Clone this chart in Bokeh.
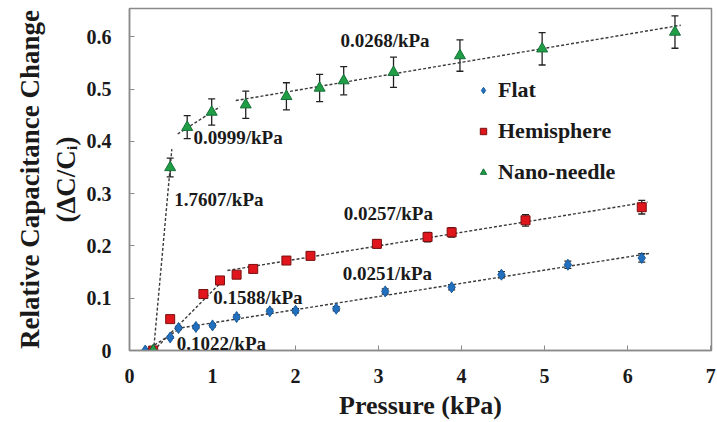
import numpy as np
from bokeh.plotting import figure
from bokeh.models import (ColumnDataSource, Whisker, TeeHead, Range1d, Legend, LegendItem,
                          FixedTicker, Label)
from bokeh.embed import file_html
from bokeh.resources import INLINE

# ---------------- data ----------------
flat_x = [0.19, 0.49, 0.59, 0.80, 1.00, 1.29, 1.69, 2.00, 2.49, 3.08, 3.88, 4.48, 5.28, 6.17]
flat_y = [0.0, 0.025, 0.043, 0.045, 0.048, 0.064, 0.075, 0.076, 0.080, 0.113, 0.121, 0.145, 0.164, 0.177]
flat_err = [0.0, 0.002, 0.003, 0.003, 0.003, 0.004, 0.004, 0.004, 0.004, 0.005, 0.005, 0.006, 0.007, 0.008]

hemi_x = [0.285, 0.49, 0.89, 1.09, 1.29, 1.49, 1.89, 2.18, 2.98, 3.59, 3.88, 4.77, 6.17]
hemi_y = [0.0, 0.060, 0.108, 0.134, 0.145, 0.156, 0.172, 0.181, 0.204, 0.217, 0.226, 0.249, 0.274]
hemi_err = [0.0, 0.004, 0.005, 0.006, 0.006, 0.006, 0.007, 0.007, 0.008, 0.009, 0.009, 0.011, 0.013]

nano_x = [0.285, 0.49, 0.695, 0.99, 1.40, 1.89, 2.29, 2.58, 3.18, 3.98, 4.97, 6.57]
nano_y = [0.0, 0.350, 0.427, 0.456, 0.470, 0.486, 0.502, 0.516, 0.532, 0.564, 0.577, 0.609]
nano_err = [0.0, 0.018, 0.022, 0.025, 0.026, 0.026, 0.026, 0.027, 0.029, 0.030, 0.031, 0.031]

# linear-fit segments: start/end of each dashed trend line
trend_x0 = [0.29, 0.58, 1.28, 0.29, 1.18, 0.20, 0.57]
trend_y0 = [0.0, 0.414, 0.478, 0.0, 0.153, 0.0, 0.042]
trend_x1 = [0.51, 1.09, 6.64, 1.10, 6.24, 0.62, 6.28]
trend_y1 = [0.385, 0.466, 0.622, 0.130, 0.284, 0.043, 0.186]

# slope annotations
slope_text = ["0.0268/kPa", "0.0999/kPa", "1.7607/kPa", "0.0257/kPa",
              "0.0251/kPa", "0.1588/kPa", "0.1022/kPa"]
slope_x = [2.54, 0.77, 0.54, 2.58, 2.57, 1.01, 0.57]
slope_y = [0.593, 0.407, 0.289, 0.262, 0.147, 0.101, 0.013]

x_ticks = [0, 1, 2, 3, 4, 5, 6, 7]
y_ticks = [0, 0.1, 0.2, 0.3, 0.4, 0.5, 0.6]
y_tick_labels = {0: "0", 0.1: "0.1", 0.2: "0.2", 0.3: "0.3", 0.4: "0.4", 0.5: "0.5", 0.6: "0.6"}

series_names = ["Flat", "Hemisphere", "Nano-needle"]

# ---------------- figure ----------------
FONT = "'Liberation Serif', 'Times New Roman', serif"
p = figure(width=717, height=422, output_backend="svg", toolbar_location=None,
           x_range=Range1d(0, 7.01), y_range=Range1d(0, 0.654),
           min_border_left=129, min_border_right=6, min_border_top=8, min_border_bottom=72)
p.background_fill_color = "white"
p.border_fill_color = "white"
p.outline_line_color = "#8a8a8a"
p.outline_line_width = 1.5
p.xgrid.visible = False
p.ygrid.visible = False

for ax in (p.xaxis[0], p.yaxis[0]):
    ax.axis_line_color = "#8a8a8a"
    ax.axis_line_width = 1.5
    ax.major_tick_in = 5
    ax.major_tick_out = 0
    ax.major_tick_line_color = "#8a8a8a"
    ax.minor_tick_line_color = None
    ax.major_label_text_font = FONT
    ax.major_label_text_font_style = "bold"
    ax.major_label_text_font_size = "20px"
    ax.major_label_text_color = "#1a1a1a"
    ax.axis_label_text_font = FONT
    ax.axis_label_text_font_style = "bold"
    ax.axis_label_text_color = "#1a1a1a"

p.xaxis.axis_label_text_font_size = "26px"
p.yaxis.axis_label_text_font_size = "27px"
p.xaxis.ticker = FixedTicker(ticks=x_ticks)
p.yaxis.ticker = FixedTicker(ticks=y_ticks)
p.yaxis.major_label_overrides = y_tick_labels
p.xaxis.major_label_standoff = 18
p.yaxis.major_label_standoff = 18
p.xaxis.axis_label = "Pressure (kPa)"
p.yaxis.axis_label = "Relative Capacitance Change\n(ΔC/Cᵢ)"
p.xaxis.axis_label_standoff = 5
p.yaxis.axis_label_standoff = 3

# trend lines
p.segment(x0=trend_x0, y0=trend_y0, x1=trend_x1, y1=trend_y1,
          line_color="#3a3a3a", line_width=1.4, line_dash="3 2")

# error bars + markers
def add_series(xs, ys, errs, marker, size, fill, line):
    src = ColumnDataSource(dict(x=xs, y=ys,
                                upper=[a + b for a, b in zip(ys, errs)],
                                lower=[a - b for a, b in zip(ys, errs)]))
    w = Whisker(base="x", upper="upper", lower="lower", source=src, dimension="height",
                line_color="#222222", line_width=1.3,
                upper_head=TeeHead(size=7, line_color="#222222", line_width=1.3),
                lower_head=TeeHead(size=7, line_color="#222222", line_width=1.3))
    p.add_layout(w)
    return p.scatter("x", "y", source=src, marker=marker, size=size,
                     fill_color=fill, line_color=line, line_width=1)

r_flat = add_series(flat_x, flat_y, flat_err, "diamond", 11, "#2170c0", "#1a5a9a")
r_hemi = add_series(hemi_x, hemi_y, hemi_err, "square", 9, "#e0161c", "#7a1010")
r_nano = add_series(nano_x, nano_y, nano_err, "triangle", 11, "#1f9e45", "#17703a")

# slope annotations
for t, x, y in zip(slope_text, slope_x, slope_y):
    p.add_layout(Label(x=x, y=y, text=t, text_font=FONT, text_font_style="bold",
                       text_font_size="19px", text_color="#1a1a1a",
                       text_align="left", text_baseline="middle"))

legend = Legend(items=[LegendItem(label=series_names[0], renderers=[r_flat]),
                       LegendItem(label=series_names[1], renderers=[r_hemi]),
                       LegendItem(label=series_names[2], renderers=[r_nano])],
                location=(346, 165), orientation="vertical",
                padding=0, margin=0, spacing=15,
                glyph_width=16, glyph_height=22, label_height=22, label_standoff=7,
                label_text_font=FONT, label_text_font_style="bold",
                label_text_font_size="22px", label_text_color="#1a1a1a",
                border_line_color=None, background_fill_alpha=0)
p.add_layout(legend)

open("out.html", "w").write(file_html(p, INLINE))
